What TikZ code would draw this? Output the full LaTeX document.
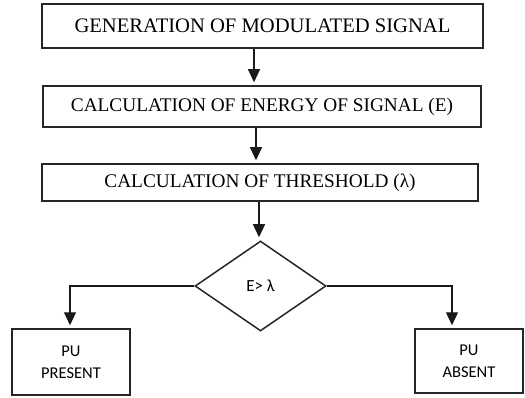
\documentclass[tikz,border=0pt]{standalone}
\usepackage{fontspec}
\setmainfont{Liberation Serif}
\newfontfamily\calfont{Carlito}
\usetikzlibrary{shapes.geometric,arrows.meta}
\tikzset{
  x=1pt,y=1pt,
  stepbox/.style={draw=black!85,line width=1.5pt,rectangle,inner sep=0pt,align=center,
    font=\fontsize{19.3}{22}\selectfont},
  endbox/.style={draw=black!85,line width=1.5pt,rectangle,inner sep=0pt,align=center,
    font=\calfont\fontsize{16.5}{22}\selectfont},
  decide/.style={draw=black!85,line width=1.5pt,diamond,inner sep=0pt,
    font=\calfont\fontsize{17}{18}\selectfont},
  arr/.style={draw=black!90,line width=1.2pt,shorten >=3pt,-{Triangle[length=13pt,width=12pt]}}
}
\begin{document}
\begin{tikzpicture}
\useasboundingbox (0,0) rectangle (525,-398);
\node[stepbox,minimum width=441,minimum height=44,font=\fontsize{20.6}{22}\selectfont] (b1) at (262.5,-26) {GENERATION OF MODULATED SIGNAL};
\node[stepbox,minimum width=438,minimum height=41] (b2) at (262,-106.5) {CALCULATION OF ENERGY OF SIGNAL (E)};
\node[stepbox,minimum width=436,minimum height=37] (b3) at (260,-182.5) {CALCULATION OF THRESHOLD (λ)};
\node[decide,minimum width=131,minimum height=90] (d) at (260.5,-286) {E> λ};
\node[endbox,minimum width=118,minimum height=66] (p) at (71,-362) {PU\\PRESENT};
\node[endbox,minimum width=108,minimum height=64] (a) at (469,-361) {PU\\ABSENT};
\coordinate (x1) at (254,0);
\coordinate (x2) at (256,0);
\coordinate (x3) at (259,0);
\coordinate (xl) at (70,0);
\coordinate (xr) at (452,0);
\draw[arr] (b1.south -| x1) -- (b2.north -| x1);
\draw[arr] (b2.south -| x2) -- (b3.north -| x2);
\draw[arr] (b3.south -| x3) -- (d.north -| x3);
\draw[arr] (d.west) -| (p.north -| xl);
\draw[arr] (d.east) -| (a.north -| xr);
\end{tikzpicture}
\end{document}
